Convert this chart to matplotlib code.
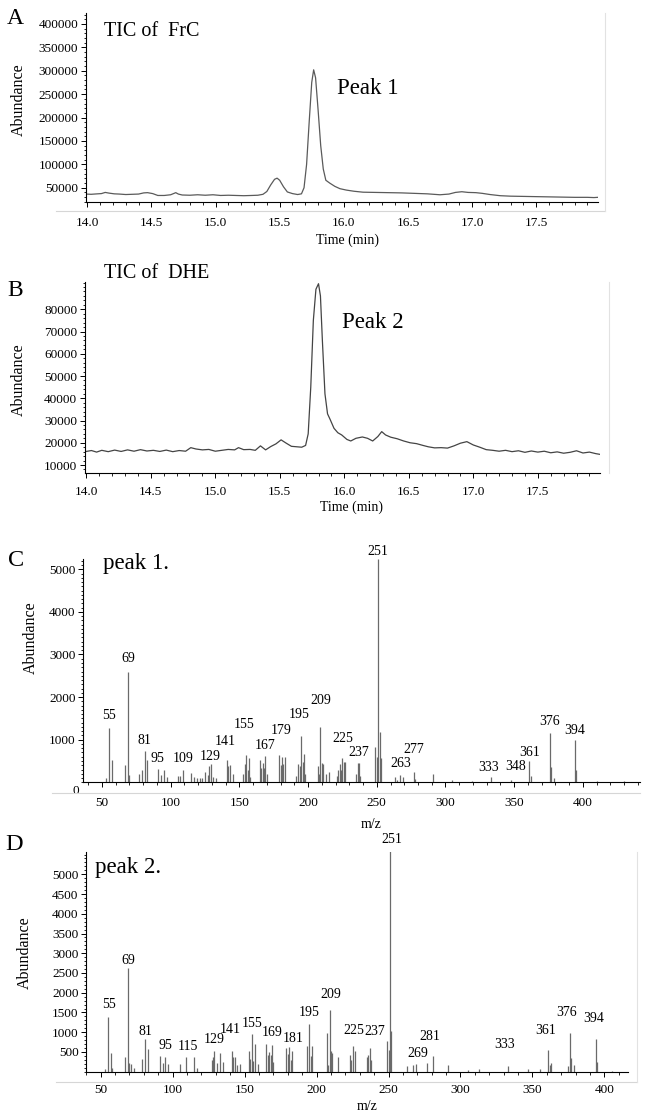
import numpy as np
import matplotlib
matplotlib.use('Agg')
import matplotlib.pyplot as plt
from matplotlib.ticker import MultipleLocator, FixedLocator, FormatStrFormatter
from matplotlib.lines import Line2D

plt.rcParams['font.family'] = ['Liberation Serif', 'DejaVu Serif']

# --- data ---
# A: TIC of FrC
a_time = [13.99, 14.03, 14.07, 14.11, 14.14, 14.17, 14.21, 14.25, 14.30, 14.35, 14.40, 14.44, 14.47,
          14.51, 14.55, 14.60, 14.65, 14.69, 14.71, 14.74, 14.80, 14.86, 14.92, 14.98, 15.04, 15.10,
          15.16, 15.22, 15.28, 15.33, 15.37, 15.40, 15.43, 15.46, 15.48, 15.50, 15.53, 15.56, 15.60,
          15.64, 15.67, 15.69, 15.71, 15.73, 15.75, 15.765, 15.78, 15.80, 15.82, 15.84, 15.86, 15.89,
          15.93, 15.97, 16.02, 16.08, 16.15, 16.25, 16.35, 16.45, 16.55, 16.65, 16.75, 16.82, 16.87,
          16.92, 16.97, 17.03, 17.08, 17.14, 17.22, 17.30, 17.40, 17.50, 17.60, 17.70, 17.80, 17.90,
          17.95, 17.98]
a_abund = [36500, 36000, 36800, 37500, 40000, 38500, 37000, 36500, 35500, 36000, 36500, 39000, 39500,
           37500, 33500, 33500, 35000, 39500, 36500, 34500, 34000, 35000, 34000, 35000, 33500, 34000,
           33500, 33000, 33500, 34000, 36000, 42000, 56000, 68000, 70500, 66000, 52000, 41000, 37500,
           35500, 37000, 50000, 100000, 190000, 275000, 302000, 285000, 215000, 140000, 90000, 66000, 60000,
           53000, 48000, 45000, 42500, 40500, 40000, 39500, 39000, 38000, 37000, 35000, 36500, 40000,
           41500, 40000, 39500, 38000, 35500, 33000, 32000, 31500, 31000, 30500, 30000, 29500, 29500,
           29000, 29500]

# B: TIC of DHE
b_time = [13.99, 14.04, 14.08, 14.12, 14.17, 14.22, 14.27, 14.32, 14.37, 14.42, 14.47, 14.52, 14.57,
          14.62, 14.67, 14.72, 14.77, 14.81, 14.85, 14.90, 14.95, 15.00, 15.05, 15.10, 15.15, 15.18,
          15.22, 15.27, 15.31, 15.35, 15.39, 15.43, 15.47, 15.51, 15.55, 15.59, 15.63, 15.67, 15.70,
          15.72, 15.74, 15.76, 15.78, 15.80, 15.815, 15.83, 15.85, 15.87, 15.89, 15.92, 15.95, 15.98,
          16.02, 16.05, 16.09, 16.14, 16.18, 16.22, 16.26, 16.29, 16.32, 16.36, 16.41, 16.46, 16.51,
          16.56, 16.61, 16.65, 16.70, 16.75, 16.80, 16.85, 16.90, 16.95, 17.00, 17.05, 17.10, 17.15,
          17.20, 17.25, 17.30, 17.35, 17.40, 17.45, 17.50, 17.55, 17.60, 17.65, 17.70, 17.75, 17.80,
          17.85, 17.90, 17.95, 17.98]
b_abund = [16000, 16500, 15800, 16600, 16000, 16700, 16100, 16800, 16200, 16900, 16300, 16600, 16100,
           16700, 16000, 16500, 16200, 17800, 17200, 16800, 17000, 16200, 16600, 17000, 16800, 17800,
           16900, 17000, 16600, 18600, 16800, 18300, 19500, 21300, 19800, 18400, 18200, 18000, 18800,
           24000, 45000, 75000, 89000, 91500, 86000, 66000, 42000, 33000, 30500, 26500, 24500, 23500,
           21500, 20800, 22000, 22600, 22000, 20800, 22800, 25000, 23500, 22500, 21800, 20800, 20000,
           19600, 18800, 18200, 17700, 17800, 17600, 18600, 19800, 20500, 19000, 18000, 16900, 16600,
           16200, 16600, 16000, 16400, 15700, 16300, 15800, 16200, 15500, 15900, 15300, 15700, 16400,
           15400, 15800, 15100, 14800]

# C: mass spectrum of peak 1
c_mz = [53, 55, 57, 67, 69, 70, 77, 79, 81, 83, 91, 93, 95, 97, 105, 107, 109, 115, 117, 119, 121,
        123, 125, 127, 128, 129, 131, 133, 141, 142, 143, 145, 153, 154, 155, 156, 157, 158, 165, 166,
        167, 168, 169, 170, 179, 180, 181, 182, 183, 191, 193, 194, 195, 196, 197, 198, 207, 208, 209,
        210, 211, 213, 215, 221, 222, 223, 224, 225, 226, 227, 235, 236, 237, 238, 249, 250, 251, 252,
        253, 263, 265, 267, 269, 277, 278, 291, 305, 319, 333, 348, 361, 362, 376, 377, 379, 394, 395,
        410, 430]
c_ab = [100, 1280, 530, 400, 2600, 180, 200, 280, 740, 515, 320, 160, 280, 130, 150, 150, 280, 230, 130,
        90, 100, 100, 250, 180, 380, 420, 120, 90, 520, 390, 400, 200, 200, 420, 630, 300, 580, 130, 520,
        330, 460, 330, 620, 200, 650, 400, 600, 420, 590, 150, 420, 380, 1090, 480, 670, 200, 380, 200,
        1300, 450, 420, 200, 250, 150, 280, 420, 300, 570, 470, 470, 200, 450, 450, 150, 820, 600, 5250,
        1170, 580, 120, 60, 160, 130, 250, 80, 200, 60, 40, 120, 60, 500, 150, 1160, 360, 90, 1000, 300,
        30, 20]
c_labels = [55, 69, 81, 95, 109, 129, 141, 155, 167, 179, 195, 209, 225, 237, 251, 263, 277, 333, 348,
            361, 376, 394]

# D: mass spectrum of peak 2
d_mz = [53, 55, 57, 58, 67, 69, 70, 71, 73, 79, 81, 83, 91, 93, 95, 97, 105, 109, 115, 117, 127, 128,
        129, 131, 133, 135, 141, 142, 143, 145, 147, 153, 154, 155, 156, 157, 159, 165, 166, 167, 168,
        169, 170, 179, 180, 181, 182, 183, 193, 195, 196, 197, 207, 208, 209, 210, 211, 215, 223, 224,
        225, 227, 235, 236, 237, 238, 249, 250, 251, 252, 263, 267, 269, 277, 281, 291, 305, 313, 333,
        347, 355, 361, 362, 363, 375, 376, 377, 379, 394, 395, 405]
d_ab = [80, 1380, 470, 100, 380, 2620, 230, 200, 100, 330, 820, 580, 400, 230, 380, 200, 200, 370, 380,
        100, 300, 380, 530, 230, 470, 250, 530, 380, 370, 160, 200, 520, 320, 950, 280, 700, 200, 700,
        430, 500, 430, 680, 250, 590, 450, 620, 300, 520, 660, 1200, 400, 650, 980, 180, 1570, 520, 480,
        370, 420, 300, 660, 530, 380, 420, 600, 300, 780, 560, 5650, 1030, 150, 180, 200, 220, 410, 160,
        50, 60, 145, 80, 60, 550, 170, 230, 150, 990, 350, 180, 830, 240, 30]
d_labels = [55, 69, 81, 95, 115, 129, 141, 155, 169, 181, 195, 209, 225, 237, 251, 269, 281, 333, 361,
            376, 394]

# label nudges in pixels (dx, dy of label centre from bar top)
c_dx = [0, 0, 0, -6, 0, 0, -2, -2, 2, 2, -2, 0, 0, 0, 0, 6, 0, -2, 4, 0, 0, 0]
c_dy = [12, 13, 10, 12, 12, 8, 19, 31, 17, 24, 21, 26, 20, 11, 7, 14, 22, 10, 13, 8, 11, 9]
d_dx = [1, 0, 0, 0, -6, 0, -1, 0, 0, 4, 0, 1, 1, 5, 2, 2, -3, -3, -3, -3, -2]
d_dy = [13, 8, 8, 11, 10, 11, 21, 11, 12, 9, 12, 15, 15, 17, 9, 10, 19, 21, 19, 20, 20]

W, H = 650, 1117
fig = plt.figure(figsize=(6.5, 11.17), dpi=100)


def box(l, t, r, b):
    return fig.add_axes([l / W, 1 - b / H, (r - l) / W, (b - t) / H])


def ftext(x, y, s, size, ha='center', rot=0):
    fig.text(x / W, 1 - y / H, s, fontsize=size, ha=ha, va='center', rotation=rot)


def hline(x0, x1, y):
    fig.add_artist(Line2D([x0 / W, x1 / W], [1 - y / H, 1 - y / H], color='#d6d6d6', lw=0.8,
                          transform=fig.transFigure))


def vline(x, y0, y1):
    fig.add_artist(Line2D([x / W, x / W], [1 - y0 / H, 1 - y1 / H], color='#e2e2e2', lw=0.8,
                          transform=fig.transFigure))


def style(ax, ysize, xpad):
    for s in ['top', 'right']:
        ax.spines[s].set_visible(False)
    for s in ['left', 'bottom']:
        ax.spines[s].set_linewidth(0.8)
    ax.patch.set_alpha(0)
    ax.tick_params(axis='y', which='major', length=3.5, width=0.7, pad=2, labelsize=ysize)
    ax.tick_params(axis='y', which='minor', length=1.3, width=0.6)
    ax.tick_params(axis='x', which='major', length=3.5, width=0.7, pad=xpad, labelsize=9.5)
    ax.tick_params(axis='x', which='minor', length=1.8, width=0.6)


def label_peaks(ax, mz, ab, labels, dx, dy, size):
    heights = dict(zip(mz, ab))
    for m, x, y in zip(labels, dx, dy):
        ax.annotate(str(m), xy=(m, heights[m]), xytext=(x * 0.72, y * 0.72),
                    textcoords='offset points', ha='center', va='center', fontsize=size,
                    annotation_clip=False)


# ---------- A ----------
ax = box(86, 13, 598, 202.3)
ax.plot(a_time, a_abund, color='#5a5a5a', lw=0.9)
ax.set_xlim(13.99, 17.982)
ax.set_ylim(18900, 423400)
ax.yaxis.set_major_locator(FixedLocator(range(50000, 400001, 50000)))
ax.yaxis.set_minor_locator(MultipleLocator(10000))
ax.xaxis.set_major_locator(MultipleLocator(0.5))
ax.xaxis.set_minor_locator(MultipleLocator(0.1))
ax.xaxis.set_major_formatter(FormatStrFormatter('%.1f'))
style(ax, 9.5, 7)
hline(56, 605, 210.7)
vline(605, 13, 210.7)
ftext(15, 18, 'A', 17)
ftext(104, 32, 'TIC of  FrC', 14.5, ha='left')
ftext(337, 88, 'Peak 1', 16.5, ha='left')
ftext(348, 240, 'Time (min)', 10)
ftext(19, 100, 'Abundance', 11.5, rot=90)

# ---------- B ----------
ax = box(85, 281.7, 600, 472.7)
ax.plot(b_time, b_abund, color='#444444', lw=0.9)
ax.set_xlim(13.99, 17.982)
ax.set_ylim(6540, 92400)
ax.yaxis.set_major_locator(FixedLocator(range(10000, 80001, 10000)))
ax.yaxis.set_minor_locator(MultipleLocator(2000))
ax.xaxis.set_major_locator(MultipleLocator(0.5))
ax.xaxis.set_minor_locator(MultipleLocator(0.1))
ax.xaxis.set_major_formatter(FormatStrFormatter('%.1f'))
style(ax, 9.5, 6)
vline(609, 282, 472.7)
ftext(15, 290, 'B', 17)
ftext(104, 273, 'TIC of  DHE', 14.5, ha='left')
ftext(342, 322, 'Peak 2', 16.5, ha='left')
ftext(352, 507, 'Time (min)', 10)
ftext(19, 380, 'Abundance', 11.5, rot=90)

# ---------- C ----------
ax = box(83.3, 559.3, 639.6, 782.3)
ax.vlines(c_mz, 0, c_ab, colors='#6a6a6a', lw=0.9)
ax.set_xlim(36.4, 441.3)
ax.set_ylim(0, 5234)
ax.yaxis.set_major_locator(FixedLocator(range(1000, 5001, 1000)))
ax.yaxis.set_minor_locator(MultipleLocator(100))
ax.xaxis.set_major_locator(FixedLocator(range(50, 401, 50)))
ax.xaxis.set_minor_locator(MultipleLocator(10))
style(ax, 9.5, 7)
ax.annotate('0', xy=(0, 0), xycoords=('axes fraction', 'data'), xytext=(-3, -6.5),
            textcoords='offset points', ha='right', va='center', fontsize=9.5, annotation_clip=False)
label_peaks(ax, c_mz, c_ab, c_labels, c_dx, c_dy, 10)
hline(52, 640, 793.3)
ftext(16, 561, 'C', 17.5)
ftext(103, 563, 'peak 1.', 16.5, ha='left')
ftext(371, 824, 'm/z', 10)
ftext(31, 638, 'Abundance', 11.5, rot=90)

# ---------- D ----------
ax = box(86.25, 851.7, 628.3, 1071.7)
ax.vlines(d_mz, 0, d_ab, colors='#6a6a6a', lw=0.9)
ax.set_xlim(39.96, 416.6)
ax.set_ylim(0, 5572)
ax.yaxis.set_major_locator(FixedLocator(range(500, 5001, 500)))
ax.yaxis.set_minor_locator(MultipleLocator(100))
ax.xaxis.set_major_locator(FixedLocator(range(50, 401, 50)))
ax.xaxis.set_minor_locator(MultipleLocator(10))
style(ax, 9.5, 5)
label_peaks(ax, d_mz, d_ab, d_labels, d_dx, d_dy, 10)
hline(56, 637, 1082)
vline(637, 852, 1082)
ftext(14, 845, 'D', 17.5)
ftext(95, 867, 'peak 2.', 16.5, ha='left')
ftext(367, 1107, 'm/z', 10)
ftext(25, 953, 'Abundance', 11.5, rot=90)

fig.savefig('out.png', dpi=100)
